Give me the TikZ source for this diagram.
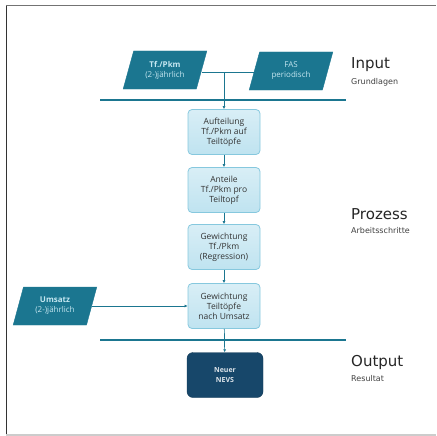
\documentclass[tikz,border=0pt]{standalone}
\usepackage{fontspec}
\setmainfont{DejaVu Sans}
\newfontfamily\boxfont{Open Sans}
\usetikzlibrary{shapes.geometric,arrows.meta}
\definecolor{teal1}{HTML}{1B7690}
\definecolor{teallight}{HTML}{BFE3F0}
\definecolor{tealborder}{HTML}{86C8DE}
\definecolor{navy1}{HTML}{17476A}
\definecolor{paratext}{HTML}{C4E6F0}
\tikzset{
  x=1pt, y=-1pt,
  para/.style={trapezium, trapezium left angle=70, trapezium right angle=110,
    trapezium stretches=true, fill=teal1, draw=teal1, minimum width=84pt,
    minimum height=38pt, text=paratext, font=\boxfont\fontsize{8}{10}\selectfont,
    align=center, inner sep=0pt},
  stepbox/.style={rounded corners=4pt, draw=tealborder, line width=0.8pt,
    top color=teallight!60!white, bottom color=teallight, minimum width=72pt,
    minimum height=45pt, align=center, inner sep=1pt,
    font=\boxfont\fontsize{8.5}{10}\selectfont, text=black!80},
  outbox/.style={rounded corners=6pt, fill=navy1, draw=navy1!80!black,
    minimum width=76pt, minimum height=45pt, align=center, text=white!85!navy1,
    font=\boxfont\bfseries\fontsize{7}{10}\selectfont},
  bar/.style={draw=teal1, line width=2pt},
  conn/.style={draw=teal1, line width=0.7pt},
  arr/.style={conn, -{Latex[length=3pt,width=3pt]}},
  biglabel/.style={anchor=west, font=\fontsize{15}{16}\selectfont, text=black!85, inner sep=0pt},
  smalllabel/.style={anchor=west, font=\fontsize{8}{9}\selectfont, text=black!75, inner sep=0pt}
}
\begin{document}
\begin{tikzpicture}
\useasboundingbox (0,0) rectangle (436,436);
% frame
\draw[black!80, line width=1.5pt] (6.5,5) -- (6.5,436);
\draw[black!55, line width=1.8pt] (6,5.5) -- (436,5.5);
\draw[black!20, line width=1.5pt] (6,435) -- (436,435);

% inputs
\node[para] (p1) at (165,70) {\textbf{Tf./Pkm}\\(2-)jährlich};
\node[para] (p2) at (291,71) {FAS\\periodisch};
\node[para] (p3) at (55,306) {\textbf{Umsatz}\\(2-)jährlich};

% bars
\coordinate (b1l) at (100,100);
\coordinate (b1r) at (346,100);
\coordinate (b2l) at (100,340);
\coordinate (b2r) at (346,340);
\draw[bar] (b1l) -- (b1r);
\draw[bar] (b2l) -- (b2r);

% process
\node[stepbox] (s1) at (224,132) {Aufteilung\\Tf./Pkm auf\\Teiltöpfe};
\node[stepbox] (s2) at (224,190) {Anteile\\Tf./Pkm pro\\Teiltopf};
\node[stepbox] (s3) at (224,247) {Gewichtung\\Tf./Pkm\\(Regression)};
\node[stepbox] (s4) at (224,306) {Gewichtung\\Teiltöpfe\\nach Umsatz};
\node[outbox] (o) at (225,375) {Neuer\\NEVS};

% connectors
\coordinate (j) at (224,72);
\draw[conn] (p1.east |- j) -- (p2.west |- j);
\draw[arr] (j) -- (s1);
\draw[arr] (s1) -- (s2);
\draw[arr] (s2) -- (s3);
\draw[arr] (s3) -- (s4);
\draw[arr] (s4) -- (o);
\draw[arr] (p3.east) -- (s4.west);

% labels
\node[biglabel] (li) at (351,65) {Input};
\node[smalllabel] (lig) at (351,82) {Grundlagen};
\node[biglabel] (lp) at (351,214) {Prozess};
\node[smalllabel] (lpa) at (351,231) {Arbeitsschritte};
\node[biglabel] (lo) at (351,362) {Output};
\node[smalllabel] (lor) at (351,379) {Resultat};
\end{tikzpicture}
\end{document}
